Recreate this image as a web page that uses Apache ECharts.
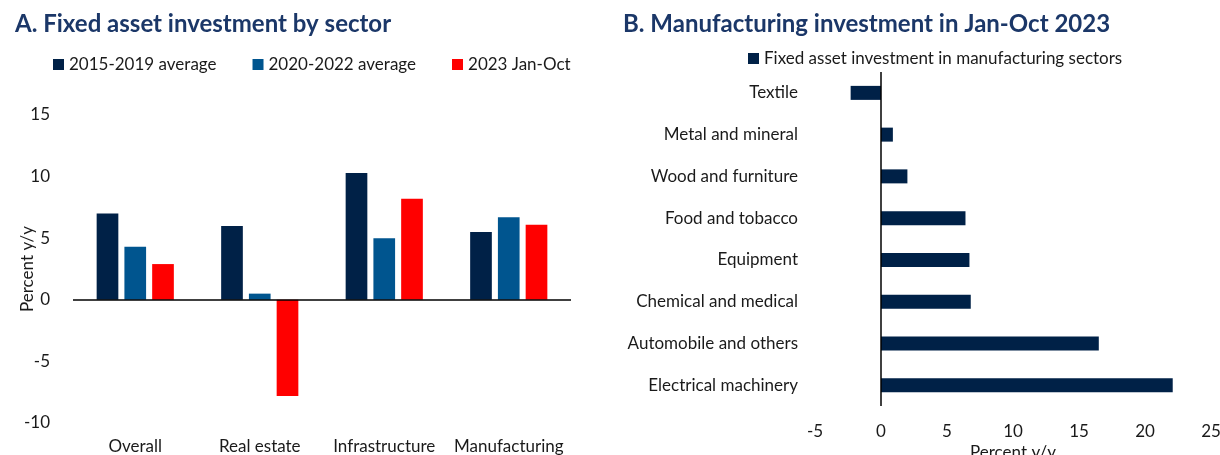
<!DOCTYPE html>
<html>
<head>
<meta charset="utf-8">
<script src="https://cdn.jsdelivr.net/npm/echarts@6/dist/echarts.min.js"></script>
<style>
  html, body { margin: 0; padding: 0; background: #fff; }
  #chart { width: 1220px; height: 455px; }
</style>
</head>
<body>
<div id="chart"></div>
<script>
// panel A: fixed asset investment by sector
const sectors = ['Overall', 'Real estate', 'Infrastructure', 'Manufacturing'];
const avg2015to2019 = [7.0, 6.0, 10.3, 5.5];
const avg2020to2022 = [4.3, 0.5, 5.0, 6.7];
const janOct2023 = [2.9, -7.8, 8.2, 6.1];

// panel B: manufacturing investment Jan-Oct 2023
const mfgSectors = [
  'Textile', 'Metal and mineral', 'Wood and furniture', 'Food and tobacco',
  'Equipment', 'Chemical and medical', 'Automobile and others', 'Electrical machinery'
];
const mfgValues = [-2.3, 0.9, 2.0, 6.4, 6.7, 6.8, 16.5, 22.1];

const font = 'Lato';
const fs = 17;
const titleColor = '#1b3768';
const textColor = '#1a1a1a';
const navy = '#002147';
const blue = '#00558f';
const red = '#ff0000';

const zeroLine = (axis) => ({
  silent: true,
  symbol: ['none', 'none'],
  label: { show: false },
  lineStyle: { color: '#000', width: 1.5, type: 'solid' },
  data: [{ [axis]: 0 }],
});

const chart = echarts.init(document.getElementById('chart'));
chart.setOption({
  animation: false,
  textStyle: { fontFamily: font },
  title: [
    {
      text: 'A. Fixed asset investment by sector',
      left: 10, top: 7,
      textStyle: { fontFamily: font, fontSize: 24, fontWeight: 'bold', color: titleColor },
    },
    {
      text: 'B. Manufacturing investment in Jan-Oct 2023',
      left: 618, top: 7,
      textStyle: { fontFamily: font, fontSize: 24, fontWeight: 'bold', color: titleColor },
    },
  ],
  legend: [
    {
      data: ['2015-2019 average', '2020-2022 average', '2023 Jan-Oct'],
      left: 48, top: 51,
      icon: 'rect', itemWidth: 11, itemHeight: 11, itemGap: 36,
      textStyle: { fontFamily: font, fontSize: fs, color: textColor },
    },
    {
      data: ['Fixed asset investment in manufacturing sectors'],
      left: 743, top: 45,
      icon: 'rect', itemWidth: 11, itemHeight: 11,
      textStyle: { fontFamily: font, fontSize: fs, color: textColor },
    },
  ],
  grid: [
    { left: 73, right: 649, top: 115, bottom: 32, outerBoundsMode: 'none' },
    { left: 815, right: 9, top: 72, bottom: 49, outerBoundsMode: 'none' },
  ],
  xAxis: [
    {
      gridIndex: 0,
      type: 'category',
      data: sectors,
      axisLine: { show: false },
      axisTick: { show: false },
      axisLabel: { interval: 0, margin: 15, fontSize: fs, color: textColor, fontFamily: font },
    },
    {
      gridIndex: 1,
      type: 'value',
      min: -5, max: 25, interval: 5,
      axisLine: { show: false },
      axisTick: { show: false },
      splitLine: { show: false },
      axisLabel: { margin: 17, fontSize: fs, color: textColor, fontFamily: font },
      name: 'Percent y/y',
      nameLocation: 'middle',
      nameGap: 38,
      nameMoveOverlap: false,
      nameTextStyle: { fontSize: fs, color: textColor, fontFamily: font },
    },
  ],
  yAxis: [
    {
      gridIndex: 0,
      type: 'value',
      min: -10, max: 15, interval: 5,
      axisLine: { show: false },
      axisTick: { show: false },
      splitLine: { show: false },
      axisLabel: { margin: 23, fontSize: fs, color: textColor, fontFamily: font },
      name: 'Percent y/y',
      nameLocation: 'middle',
      nameRotate: 90,
      nameGap: 37,
      nameMoveOverlap: false,
      nameTextStyle: { fontSize: fs, color: textColor, fontFamily: font },
    },
    {
      gridIndex: 1,
      type: 'category',
      data: mfgSectors,
      inverse: true,
      axisLine: { show: false, onZero: false },
      axisTick: { show: false },
      axisLabel: { interval: 0, margin: 17, fontSize: fs, color: textColor, fontFamily: font },
    },
  ],
  series: [
    {
      name: '2015-2019 average',
      type: 'bar',
      xAxisIndex: 0, yAxisIndex: 0,
      data: avg2015to2019,
      barGap: '28%',
      barCategoryGap: '38%',
      itemStyle: { color: navy },
      markLine: zeroLine('yAxis'),
    },
    {
      name: '2020-2022 average',
      type: 'bar',
      xAxisIndex: 0, yAxisIndex: 0,
      data: avg2020to2022,
      itemStyle: { color: blue },
    },
    {
      name: '2023 Jan-Oct',
      type: 'bar',
      xAxisIndex: 0, yAxisIndex: 0,
      data: janOct2023,
      itemStyle: { color: red },
    },
    {
      name: 'Fixed asset investment in manufacturing sectors',
      type: 'bar',
      xAxisIndex: 1, yAxisIndex: 1,
      data: mfgValues,
      barWidth: 14,
      itemStyle: { color: navy },
      markLine: zeroLine('xAxis'),
    },
  ],
});
</script>
</body>
</html>
